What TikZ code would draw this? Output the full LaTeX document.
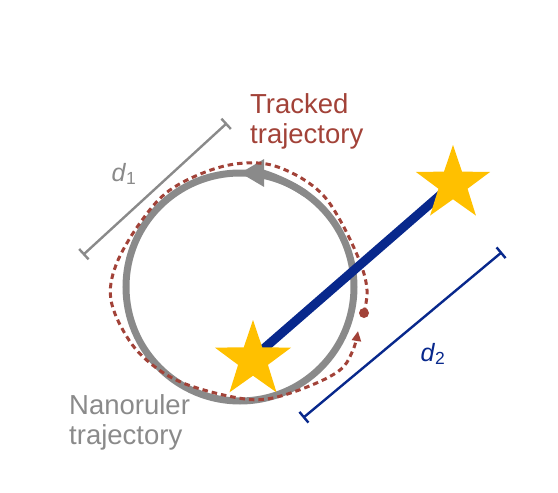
\documentclass[tikz,border=0pt]{standalone}
\usepackage{fontspec}
\setmainfont{Liberation Sans}
\usetikzlibrary{arrows.meta,shapes.geometric}
\definecolor{rulergray}{RGB}{138,138,138}
\definecolor{trackred}{RGB}{162,66,56}
\definecolor{navy}{RGB}{8,40,140}
\definecolor{staryellow}{RGB}{255,192,0}
\tikzset{
  lbl/.style={inner sep=0pt, align=left, anchor=north west, font=\fontsize{27.5}{30.5}\selectfont},
  starnode/.style={star, star points=5, star point ratio=2.55, fill=staryellow, draw=none, inner sep=0pt, minimum size=#1},
  dimbar/.style={line width=2.4pt, {Bar[width=14pt,line width=2.4pt]}-{Bar[width=14pt,line width=2.4pt]}},
  dimlbl/.style={inner sep=0pt, font=\fontsize{25}{27}\selectfont}
}
\begin{document}
\begin{tikzpicture}[x=1pt,y=-1pt]
\useasboundingbox (0,0) rectangle (558,493);
% nanoruler circle
\coordinate (c) at (240,287);
\draw[rulergray, line width=7pt] (c) circle[radius=114];
\draw[rulergray, line width=7pt, -{Triangle[length=24pt,width=26pt]}]
  (c) ++(305:114) arc[start angle=305, end angle=270, radius=114];
% tracked trajectory
\draw[trackred, line width=3pt, dash pattern=on 5.5pt off 4pt, -{Triangle[length=10pt,width=9pt]}]
  plot[smooth, tension=0.6] coordinates {(364,313) (367,290) (360,262) (340,220) (320,192) (290,172) (258,163) (217,168) (170,190) (140,223) (116,265) (111,300) (127,337) (150,363) (183,383) (233,397) (267,399) (307,387) (340,370) (353,350) (358,331)};
\node[circle, fill=trackred, inner sep=0pt, minimum size=10pt] (dot) at (364,313) {};
% rod and stars
\coordinate (p1) at (253,358);
\coordinate (p2) at (453,184);
\draw[navy, line width=9pt] (p1) -- (p2);
\node[starnode=80pt] (s1) at (253,360) {};
\node[starnode=78pt] (s2) at (453,184) {};
% d1
\coordinate (d1a) at (227,123);
\coordinate (d1b) at (83,255);
\draw[rulergray, dimbar] (d1a) -- (d1b);
\node[dimlbl, text=rulergray] (d1l) at (124,174) {\textit{d}\textsubscript{1}};
% d2
\coordinate (d2a) at (502,252);
\coordinate (d2b) at (303,418);
\draw[navy, dimbar] (d2a) -- (d2b);
\node[dimlbl, text=navy] (d2l) at (433,354) {\textit{d}\textsubscript{2}};
% labels
\node[lbl, text=trackred] (tt) at (250,93) {Tracked\\trajectory};
\node[lbl, text=rulergray] (nt) at (69,394) {Nanoruler\\trajectory};
\end{tikzpicture}
\end{document}
